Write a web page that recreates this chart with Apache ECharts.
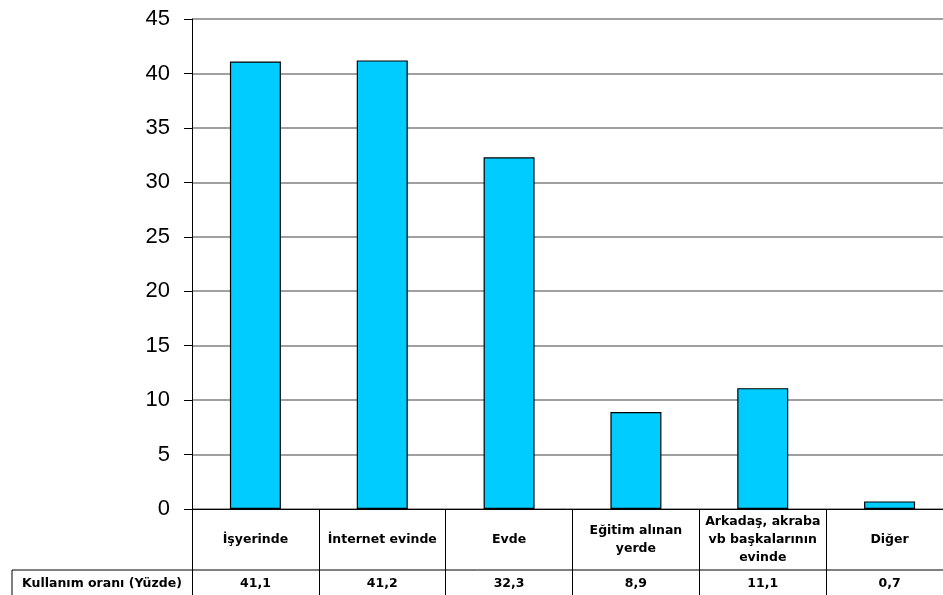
<!DOCTYPE html>
<html><head><meta charset="utf-8">
<script src="https://cdn.jsdelivr.net/npm/echarts@6/dist/echarts.min.js"></script>
<style>html,body{margin:0;padding:0;background:#fff}#c{width:943px;height:595px}</style>
</head><body><div id="c"></div>
<script>
const categories = ['İşyerinde', 'İnternet evinde', 'Evde', 'Eğitim alınan\nyerde', 'Arkadaş, akraba\nvb başkalarının\nevinde', 'Diğer'];
const values = [41.1, 41.2, 32.3, 8.9, 11.1, 0.7];
const rowLabel = 'Kullanım oranı (Yüzde)';
const yTicks = { min: 0, max: 45, interval: 5 };

const FONT = '"Liberation Sans", Arial, Helvetica, sans-serif';
const TFONT = '"DejaVu Sans", Verdana, sans-serif';
const chart = echarts.init(document.getElementById('c'), null, { renderer: 'canvas' });
const fmt = v => v.toFixed(1).replace('.', ',');

chart.setOption({
  animation: false,
  backgroundColor: '#fff',
  grid: { left: 192, top: 19, width: 761, height: 490, containLabel: false, outerBoundsMode: 'none' },
  xAxis: [{
    type: 'category', data: categories, position: 'bottom',
    axisLine: { show: true, lineStyle: { color: '#000', width: 1 } },
    axisTick: { show: true, inside: false, length: 90, alignWithLabel: false, lineStyle: { color: '#000', width: 1 } },
    axisLabel: { interval: 0, margin: 31, verticalAlign: 'middle', align: 'center', fontFamily: TFONT, fontWeight: 'bold', fontSize: 12.5, color: '#000', lineHeight: 18, hideOverlap: false },
    splitLine: { show: false }
  }, {
    type: 'category', data: values.map(fmt), position: 'bottom', gridIndex: 0,
    axisLine: { show: false }, axisTick: { show: false },
    axisLabel: { interval: 0, margin: 75, verticalAlign: 'middle', align: 'center', fontFamily: TFONT, fontWeight: 'bold', fontSize: 12.5, color: '#000', hideOverlap: false },
    splitLine: { show: false }
  }],
  yAxis: {
    type: 'value', min: yTicks.min, max: yTicks.max, interval: yTicks.interval,
    axisLine: { show: true, lineStyle: { color: '#000', width: 1 } },
    axisTick: { show: true, length: 8, lineStyle: { color: '#000' } },
    axisLabel: { fontFamily: FONT, fontSize: 22, color: '#000', margin: 22 },
    splitLine: { show: true, lineStyle: { color: '#808080', width: 1.5 } }
  },
  series: [{
    type: 'bar', data: values, xAxisIndex: 0, barWidth: 51,
    itemStyle: { color: '#00CCFF', borderColor: '#000', borderWidth: 1.2 }
  }]
});

function drawTable() {
  const x0 = chart.convertToPixel({ xAxisIndex: 0 }, categories[0]);
  const x1 = chart.convertToPixel({ xAxisIndex: 0 }, categories[1]);
  const step = x1 - x0;
  const axisLeft = x0 - step / 2;
  const yZero = chart.convertToPixel({ yAxisIndex: 0 }, 0);
  const rowTop = yZero + 61;
  const labelLeft = 12;
  chart.setOption({
    graphic: [
      { type: 'line', shape: { x1: labelLeft, y1: rowTop, x2: 943, y2: rowTop }, style: { stroke: '#000', lineWidth: 1 }, silent: true },
      { type: 'line', shape: { x1: labelLeft, y1: rowTop, x2: labelLeft, y2: 600 }, style: { stroke: '#000', lineWidth: 1 }, silent: true },
      { type: 'text', x: (labelLeft + axisLeft) / 2, y: rowTop + 14, style: { text: rowLabel, fontFamily: TFONT, fontWeight: 'bold', fontSize: 12.5, fill: '#000', align: 'center', verticalAlign: 'middle' }, silent: true }
    ]
  });
}
drawTable();
</script></body></html>
